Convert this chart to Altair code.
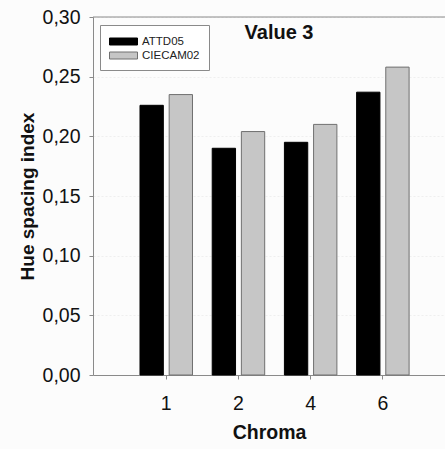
import altair as alt
import pandas as pd

# Hue spacing index per chroma level for two colour appearance models
chroma = ["1", "2", "4", "6"]
attd05 = [0.226, 0.190, 0.195, 0.237]
ciecam02 = [0.235, 0.204, 0.210, 0.258]
models = ["ATTD05", "CIECAM02"]
y_ticks = [0.00, 0.05, 0.10, 0.15, 0.20, 0.25, 0.30]
panel_title = "Value 3"

rows = []
for c, a, b in zip(chroma, attd05, ciecam02):
    rows.append({"Chroma": c, "Model": models[0], "Index": a})
    rows.append({"Chroma": c, "Model": models[1], "Index": b})
df = pd.DataFrame(rows)

W, H = 352, 358
FONT = "Liberation Sans"
AXIS_GREY = "#8a8a8a"

y_scale = alt.Scale(domain=[y_ticks[0], y_ticks[-1]], nice=False, zero=True)

bars = alt.Chart(df).mark_bar(strokeWidth=1).encode(
    x=alt.X(
        "Chroma:N",
        sort=chroma,
        scale=alt.Scale(paddingInner=0.273, paddingOuter=0.574, align=0.567),
        axis=alt.Axis(
            title="Chroma",
            labelAngle=0,
            labelFont=FONT,
            labelFontSize=19.5,
            labelColor="#111",
            labelPadding=15,
            tickSize=4,
            tickColor=AXIS_GREY,
            domainColor=AXIS_GREY,
            titleFont=FONT,
            titleFontSize=19.5,
            titleFontWeight="bold",
            titleColor="#111",
            titlePadding=11,
        ),
    ),
    xOffset=alt.XOffset("Model:N", sort=models,
                        scale=alt.Scale(paddingInner=0.2, paddingOuter=0)),
    y=alt.Y(
        "Index:Q",
        scale=y_scale,
        axis=alt.Axis(
            title="Hue spacing index",
            values=y_ticks,
            labelExpr="replace(format(datum.value, '.2f'), '.', ',')",
            labelFont=FONT,
            labelFontSize=19.5,
            labelColor="#111",
            labelPadding=9,
            tickSize=4,
            tickColor=AXIS_GREY,
            domainColor=AXIS_GREY,
            grid=True,
            gridColor="#efefef",
            gridDash=[2, 2],
            titleFont=FONT,
            titleFontSize=19,
            titleFontWeight="bold",
            titleColor="#111",
            titlePadding=5,
        ),
    ),
    color=alt.Color(
        "Model:N",
        sort=models,
        scale=alt.Scale(domain=models, range=["#000000", "#c6c6c6"]),
        legend=alt.Legend(
            title=None,
            orient="none",
            legendX=7,
            legendY=8,
            symbolType="M-2,-0.5H2V0.5H-2Z",
            symbolSize=196,
            symbolOffset=7,
            symbolStrokeWidth=1,
            labelOffset=11,
            labelFont=FONT,
            labelFontSize=11.5,
            labelColor="#222",
            rowPadding=1,
            padding=9,
            strokeColor=AXIS_GREY,
            fillColor="#ffffff",
        ),
    ),
    stroke=alt.Stroke(
        "Model:N",
        sort=models,
        scale=alt.Scale(domain=models, range=["#000000", "#707070"]),
    ),
)

# Upper frame line of the plot area
top_line = alt.Chart(pd.DataFrame({"top": [y_ticks[-1]]})).mark_rule(
    color=AXIS_GREY, strokeWidth=1
).encode(
    y=alt.Y("top:Q", scale=y_scale),
    x=alt.value(0),
    x2=alt.value(W),
)

label = alt.Chart(pd.DataFrame({"t": [panel_title]})).mark_text(
    font=FONT, fontSize=20, fontWeight="bold", color="#111", baseline="middle", align="center"
).encode(
    text="t:N",
    x=alt.value(186),
    y=alt.value(16),
)

chart = alt.layer(bars, top_line, label).properties(
    width=W,
    height=H,
    autosize=alt.AutoSizeParams(type="none"),
    padding={"left": 93, "top": 17, "right": 0, "bottom": 74},
    background="#fcfcfc",
).configure_view(stroke=None)

chart.save("out.html", embed_options={"renderer": "svg", "actions": False})
